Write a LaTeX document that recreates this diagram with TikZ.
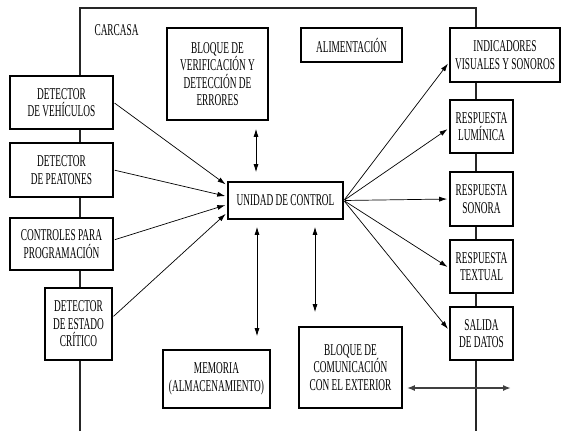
\documentclass[tikz,border=0pt]{standalone}
\usepackage{fontspec}
\setmainfont[FakeStretch=0.565]{Liberation Serif}
\usetikzlibrary{arrows.meta}
\begin{document}
\begin{tikzpicture}[x=1pt,y=-1pt,
  box/.style={draw, line width=1.6pt, fill=white, inner sep=0pt, align=center,
    font=\fontsize{16.5}{17.5}\selectfont},
  arr/.style={-{Latex[length=8pt,width=5pt]}, line width=0.7pt, shorten >=2pt, shorten <=1pt},
  dbl/.style={{Latex[length=8pt,width=5pt]}-{Latex[length=8pt,width=5pt]}, line width=0.8pt},
  hdbl/.style={{Latex[length=8pt,width=6pt]}-{Latex[length=8pt,width=6pt]}, line width=2pt, draw=black!75},
  shell/.style={line width=1.5pt, draw=black!85}]
\useasboundingbox (0,0) rectangle (561,431);
% carcasa
\draw[shell] (80,431) -- (80,8) -- (476,8) -- (476,431);
\node[font=\fontsize{16.5}{17.5}\selectfont, anchor=west] (carcasa) at (91,30) {CARCASA};
% left boxes
\node[box, minimum width=103pt, minimum height=53pt] (veh) at (61.5,102.5) {DETECTOR\\DE VEHÍCULOS};
\node[box, minimum width=103pt, minimum height=54pt] (pea) at (61.5,170) {DETECTOR\\DE PEATONES};
\node[box, minimum width=103pt, minimum height=52pt] (ctrl) at (61.5,244) {CONTROLES PARA\\PROGRAMACIÓN};
\node[box, minimum width=67pt, minimum height=72pt] (crit) at (78.5,324) {DETECTOR\\DE ESTADO\\CRÍTICO};
% middle boxes
\node[box, minimum width=101pt, minimum height=92pt] (ver) at (217.5,74) {BLOQUE DE\\VERIFICACIÓN Y\\DETECCIÓN DE\\ERRORES};
\node[box, minimum width=101pt, minimum height=34pt] (ali) at (351.5,45) {ALIMENTACIÓN};
\node[box, minimum width=115pt, minimum height=37pt] (uc) at (285.5,200.5) {UNIDAD DE CONTROL};
\node[box, minimum width=107pt, minimum height=58pt] (mem) at (216.5,379) {MEMORIA\\(ALMACENAMIENTO)};
\node[box, minimum width=103pt, minimum height=81pt] (com) at (350.5,367.5) {BLOQUE DE\\COMUNICACIÓN\\CON EL EXTERIOR};
% right boxes
\node[box, minimum width=110pt, minimum height=54pt] (ind) at (505,55) {INDICADORES\\VISUALES Y SONOROS};
\node[box, minimum width=63pt, minimum height=53pt] (lum) at (481.5,126.5) {RESPUESTA\\LUMÍNICA};
\node[box, minimum width=63pt, minimum height=54pt] (son) at (481.5,199) {RESPUESTA\\SONORA};
\node[box, minimum width=63pt, minimum height=53pt] (tex) at (481.5,266.5) {RESPUESTA\\TEXTUAL};
\node[box, minimum width=63pt, minimum height=53pt] (sal) at (481.5,333.5) {SALIDA\\DE DATOS};
\coordinate (ext) at (511,388);
% inputs
\draw[arr] (veh.east) -- ([yshift=15pt]uc.west);
\draw[arr] (pea.east) -- ([yshift=4pt]uc.west);
\draw[arr] ([yshift=4pt]ctrl.east) -- ([yshift=-4pt]uc.west);
\draw[arr] ([yshift=7pt]crit.east) -- ([yshift=-12pt]uc.west);
% outputs
\draw[arr] (uc.east) -- ([yshift=-7pt]ind.west);
\draw[arr] (uc.east) -- ([yshift=-1.5pt]lum.west);
\draw[arr] (uc.east) -- (son.west);
\draw[arr] (uc.east) -- ([yshift=-1.5pt]tex.west);
\draw[arr] (uc.east) -- ([yshift=3pt]sal.west);
% bidirectional
\draw[dbl] ([xshift=38.5pt,yshift=-8pt]ver.south) -- ([xshift=-29.5pt,yshift=9pt]uc.north);
\draw[dbl] ([xshift=-28.5pt,yshift=-7pt]uc.south) -- ([xshift=40.5pt,yshift=13pt]mem.north);
\draw[dbl] ([xshift=29.5pt,yshift=-7pt]uc.south) -- ([xshift=-35.5pt,yshift=14pt]com.north);
\draw[hdbl] ([xshift=4pt,yshift=-20.5pt]com.east) -- (ext);
\end{tikzpicture}
\end{document}
